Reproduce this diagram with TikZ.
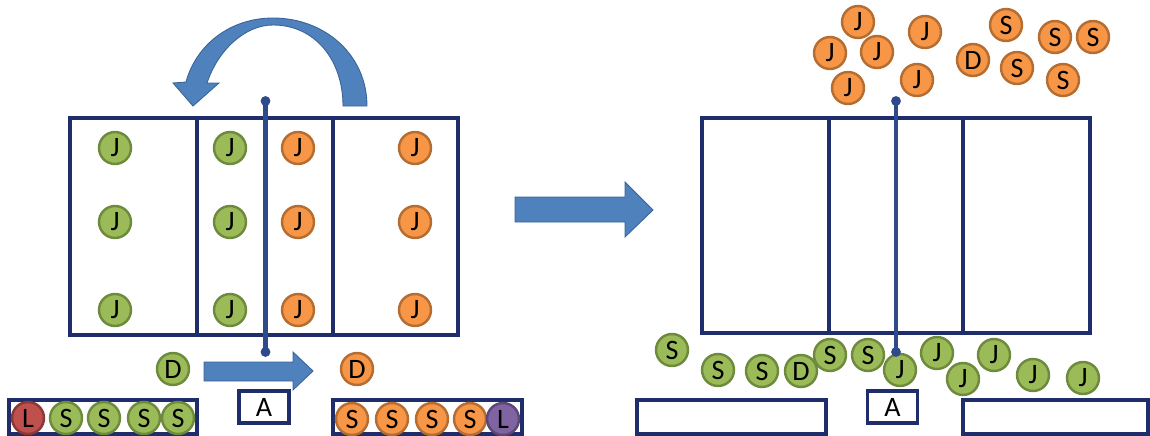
\documentclass[tikz,border=0pt]{standalone}
\usepackage{fontspec}
\setmainfont{Carlito}
\definecolor{ballgreen}{HTML}{9BBB59}
\definecolor{ballgreenline}{HTML}{6E8B3D}
\definecolor{ballorange}{HTML}{F79646}
\definecolor{ballorangeline}{HTML}{B66D31}
\definecolor{ballred}{HTML}{C0504D}
\definecolor{ballredline}{HTML}{8C3836}
\definecolor{ballpurple}{HTML}{8064A2}
\definecolor{ballpurpleline}{HTML}{5C4776}
\definecolor{framenavy}{HTML}{1F2E6B}
\definecolor{pinblue}{HTML}{2E4A8A}
\definecolor{arrowblue}{HTML}{4F81BD}
\definecolor{arrowblueline}{HTML}{3A6497}

\begin{document}
\begin{tikzpicture}[x=0.02cm,y=-0.02cm] % one unit = one pixel of the sketch
	\tikzset{ball/.style={circle,minimum size=0.64cm,inner sep=0pt,line width=1.4pt,
			font=\fontsize{16}{16}\selectfont},
		gball/.style={ball,fill=ballgreen,draw=ballgreenline},
		oball/.style={ball,fill=ballorange,draw=ballorangeline},
		rball/.style={ball,fill=ballred,draw=ballredline},
		pball/.style={ball,fill=ballpurple,draw=ballpurpleline},
		frame/.style={draw=framenavy,line width=2.2pt},
		abox/.style={frame,fill=white,minimum width=1cm,minimum height=0.64cm,inner sep=0pt,
			line width=1.8pt,font=\fontsize{16}{16}\selectfont},
		pin/.style={draw=pinblue,line width=2.6pt},
		blockarrow/.style={fill=arrowblue,draw=arrowblueline,line width=0.5pt}}
	
	\useasboundingbox (0,0) rectangle (1150,436);
	
	% ---------------- left panel ----------------
	% Big box with its two dividers
	\draw[frame] (70,118) rectangle (458,335);
	\draw[frame] (197,118) -- (197,335);
	\draw[frame] (333,118) -- (333,335);
	
	% Curved arrow above the box
	\filldraw[blockarrow] (367,106) .. controls (367,55) and (325,18) .. (273,18)
		.. controls (230,18) and (196,45) .. (186,82)
		-- (173,83) -- (193,106) -- (219,83) -- (207,83)
		.. controls (218,50) and (245,25) .. (273,25)
		.. controls (315,25) and (343,60) .. (343,106) -- cycle;
	
	% Balls inside the box
	\foreach \y [count=\i] in {148,222,310}
	{
		\node[gball] (lga\i) at (115,\y) {J};
		\node[gball] (lgb\i) at (230,\y) {J};
		\node[oball] (loa\i) at (298,\y) {J};
		\node[oball] (lob\i) at (415,\y) {J};
	}
	
	% Pin through the middle
	\coordinate (ltop) at (265.5,101);
	\coordinate (lbot) at (265.5,352);
	\draw[pin] (ltop) -- (lbot);
	\fill[pinblue] (ltop) circle (2.8pt);
	\fill[pinblue] (lbot) circle (2.8pt);
	
	% D balls and the small arrow
	\node[gball] (ldg) at (173,369) {D};
	\node[oball] (ldo) at (357,369) {D};
	\filldraw[blockarrow] (204,362) -- (293,362) -- (293,352) -- (313,371)
		-- (293,390) -- (293,381) -- (204,381) -- cycle;
	\node[abox] (la) at (264,407) {A};
	
	% Bottom holders
	\draw[frame] (9,400) rectangle (197,434);
	\node[rball] (lh1) at (28,418) {L};
	\foreach \x [count=\i from 2] in {66,104,144,178}
		\node[gball] (lh\i) at (\x,418) {S};
	\draw[frame] (333,400) rectangle (522,434);
	\foreach \x [count=\i] in {352,392,432,470}
		\node[oball] (rh\i) at (\x,419) {S};
	\node[pball] (rh5) at (503,419) {L};
	
	% Arrow between the panels
	\filldraw[blockarrow] (515,197) -- (625,197) -- (625,182) -- (653,210)
		-- (625,237) -- (625,222) -- (515,222) -- cycle;
	
	% ---------------- right panel ----------------
	\draw[frame] (702,118) rectangle (1090,333);
	\draw[frame] (829,118) -- (829,333);
	\draw[frame] (963,118) -- (963,333);
	
	% Balls flying off the top
	\foreach \x/\y/\t [count=\i] in {858/22/J,830/53/J,877/52/J,925/32/J,848/88/J,917/80/J,
		1006/25/S,1055/37/S,1093/37/S,973/60/D,1017/68/S,1063/80/S}
		\node[oball] (top\i) at (\x,\y) {\t};
	
	% Pin through the middle
	\coordinate (rtop) at (896,101);
	\coordinate (rbot) at (896,352);
	\draw[pin] (rtop) -- (rbot);
	\fill[pinblue] (rtop) circle (2.8pt);
	
	% Balls falling out of the bottom
	\foreach \x/\y/\t [count=\i] in {672/350/S,718/370/S,762/371/S,801/371/D,830/355/S,868/355/S,
		900/370/J,937/353/J,963/379/J,994/355/J,1033/375/J,1083/378/J}
		\node[gball] (bot\i) at (\x,\y) {\t};
	\fill[pinblue] (rbot) circle (2.8pt);
	
	% Empty holders and the A box
	\draw[frame] (637,400) rectangle (826,434);
	\draw[frame] (963,400) rectangle (1148,434);
	\node[abox] (ra) at (892.5,407) {A};
	
\end{tikzpicture}
\end{document}
